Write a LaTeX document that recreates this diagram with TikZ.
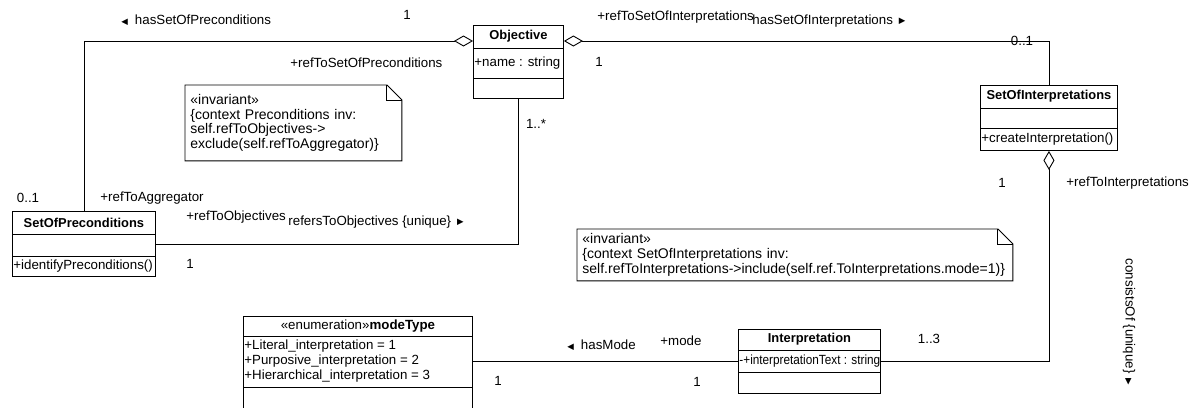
\documentclass[tikz,border=0pt]{standalone}
\usepackage{fontspec}
\setmainfont{Liberation Sans}
\newfontfamily\symfont{DejaVu Sans}
\usetikzlibrary{arrows.meta}
\newcommand{\larr}{\raisebox{0.5pt}{\symfont\fontsize{8.5}{8.5}\selectfont ◀}}
\newcommand{\rarr}{\raisebox{0.5pt}{\symfont\fontsize{8.5}{8.5}\selectfont ▶}}
\begin{document}
\begin{tikzpicture}[x=1pt,y=-1pt,line width=0.9pt,
  font=\fontsize{13.3}{15}\selectfont,
  cls/.style={draw,inner sep=0pt,anchor=north west},
  hdr/.style={inner sep=0pt,font=\fontsize{12.9}{15}\selectfont\bfseries},
  member/.style={inner sep=0pt,anchor=west},
  lbl/.style={inner sep=0pt,anchor=west},
  mult/.style={inner sep=0pt},
  agg/.style={{Diamond[open,length=19pt,width=11pt,line width=0.9pt]}-},
  notetext/.style={inner xsep=5pt,inner ysep=0pt,anchor=north west,align=left,
    font=\fontsize{14}{14.8}\selectfont}]
\useasboundingbox (0,0) rectangle (1193,407);

% ---------- classes ----------
\node[cls,minimum width=90pt,minimum height=73pt] (obj) at (473,25) {};
\draw ([yshift=-23pt]obj.north west) -- ([yshift=-23pt]obj.north east);
\draw ([yshift=-53pt]obj.north west) -- ([yshift=-53pt]obj.north east);
\node[hdr] (objT) at ([yshift=-11.5pt]obj.north) {Objective};
\node[member] (objA) at ([xshift=1pt,yshift=-38pt]obj.north west) {+name : string};

\node[cls,minimum width=143pt,minimum height=65pt] (pre) at (12,211) {};
\draw ([yshift=-23pt]pre.north west) -- ([yshift=-23pt]pre.north east);
\draw ([yshift=-45pt]pre.north west) -- ([yshift=-45pt]pre.north east);
\node[hdr] (preT) at ([yshift=-11.5pt]pre.north) {SetOfPreconditions};
\node[member] (preO) at ([xshift=1pt,yshift=-55pt]pre.north west) {+identifyPreconditions()};

\node[cls,minimum width=137pt,minimum height=65pt] (soi) at (980,85) {};
\draw ([yshift=-23pt]soi.north west) -- ([yshift=-23pt]soi.north east);
\draw ([yshift=-43pt]soi.north west) -- ([yshift=-43pt]soi.north east);
\node[hdr] (soiT) at ([yshift=-11.5pt]soi.north) {SetOfInterpretations};
\node[member] (soiO) at ([xshift=1pt,yshift=-54pt]soi.north west) {+createInterpretation()};

\node[cls,minimum width=142pt,minimum height=64pt] (itp) at (738,329) {};
\draw ([yshift=-21pt]itp.north west) -- ([yshift=-21pt]itp.north east);
\draw ([yshift=-43pt]itp.north west) -- ([yshift=-43pt]itp.north east);
\node[hdr] (itpT) at ([yshift=-10.5pt]itp.north) {Interpretation};
\node[member] (itpA) at ([xshift=1pt,yshift=-32pt]itp.north west)
  {\scalebox{0.885}[1]{-+interpretationText : string}};

\node[cls,minimum width=229pt,minimum height=100pt] (mode) at (243,316) {};
\draw ([yshift=-20pt]mode.north west) -- ([yshift=-20pt]mode.north east);
\draw ([yshift=-71pt]mode.north west) -- ([yshift=-71pt]mode.north east);
\node[inner sep=0pt] (modeT) at ([yshift=-10pt]mode.north) {«enumeration»\textbf{modeType}};
\node[member] (modeA1) at ([xshift=1pt,yshift=-30pt]mode.north west) {+Literal\_interpretation = 1};
\node[member] (modeA2) at ([xshift=1pt,yshift=-45pt]mode.north west) {+Purposive\_interpretation = 2};
\node[member] (modeA3) at ([xshift=1pt,yshift=-60pt]mode.north west) {+Hierarchical\_interpretation = 3};

% ---------- notes ----------
\node[notetext,text width=206pt,minimum height=75pt] (n1) at (185,85)
  {«invariant»\\\{context Preconditions inv:\\self.refToObjectives->\\exclude(self.refToAggregator)\}};
\draw (n1.north west) -- ([xshift=-15pt]n1.north east) -- ([yshift=-15pt]n1.north east)
  -- (n1.south east) -- (n1.south west) -- cycle;
\draw ([xshift=-15pt]n1.north east) -- ([xshift=-15pt,yshift=-15pt]n1.north east)
  -- ([yshift=-15pt]n1.north east);

\node[notetext,text width=425pt,minimum height=51pt] (n2) at (577,229)
  {«invariant»\\\{context SetOfInterpretations inv:\\self.refToInterpretations->include(self.ref.ToInterpretations.mode=1)\}};
\draw (n2.north west) -- ([xshift=-15pt]n2.north east) -- ([yshift=-15pt]n2.north east)
  -- (n2.south east) -- (n2.south west) -- cycle;
\draw ([xshift=-15pt]n2.north east) -- ([xshift=-15pt,yshift=-15pt]n2.north east)
  -- ([yshift=-15pt]n2.north east);

% ---------- associations ----------
\draw[agg] ([yshift=-16pt]obj.north west) -| (pre.north);
\draw[agg] ([yshift=-16pt]obj.north east) -| (soi.north);
\draw (obj.south) |- (pre.east);
\draw[agg] (soi.south) |- (itp.east);
\draw (itp.west) -- (itp.west -| mode.east);

% ---------- role names, multiplicities, association names ----------
\node[lbl] (l1) at (121,20) {\larr\hspace{7pt}hasSetOfPreconditions};
\node[mult] (m1) at (407,15) {1};
\node[lbl] (l2) at (290,63) {+refToSetOfPreconditions};
\node[lbl] (l3) at (597,17) {+refToSetOfInterpretations};
\node[lbl] (l4) at (752,21) {hasSetOfInterpretations\hspace{6pt}\rarr};
\node[mult] (m2) at (1022,41) {0..1};
\node[mult] (m3) at (599,62) {1};
\node[mult] (m4) at (536,124) {1..*};
\node[mult] (m5) at (28,198) {0..1};
\node[lbl] (l5) at (100,198) {+refToAggregator};
\node[lbl] (l6) at (186,217) {+refToObjectives};
\node[lbl] (l7) at (288,222) {refersToObjectives \{unique\}\hspace{6pt}\rarr};
\node[mult] (m6) at (190,264) {1};
\node[mult] (m7) at (1002,183) {1};
\node[lbl] (l8) at (1066,183) {+refToInterpretations};
\node[lbl] (l9) at (567,345) {\larr\hspace{7pt}hasMode};
\node[lbl] (l10) at (660,341) {+mode};
\node[mult] (m8) at (498,381) {1};
\node[mult] (m9) at (697,382) {1};
\node[mult] (m10) at (929,339) {1..3};
\node[inner sep=0pt,rotate=-90] (l11) at (1129,322) {consistsOf \{unique\}\hspace{5pt}\rarr};
\end{tikzpicture}
\end{document}
